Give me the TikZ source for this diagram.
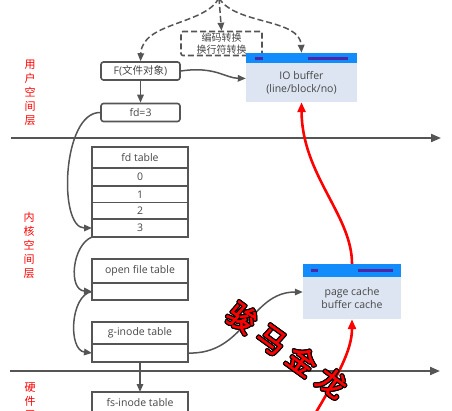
\documentclass[tikz,border=0pt]{standalone}
\usepackage{fontspec}
\setmainfont{Open Sans}
\newfontfamily\cjk{Noto Sans CJK SC}
\newfontfamily\wmfont[FakeBold=1.6]{Noto Sans CJK SC}
\usetikzlibrary{arrows.meta, positioning, calc}
\definecolor{linegray}{RGB}{85,85,85}
\definecolor{txtgray}{RGB}{70,70,70}
\definecolor{barblue}{RGB}{18,140,250}
\definecolor{markpurple}{RGB}{75,40,165}
\definecolor{cachefill}{RGB}{221,229,242}

\begin{document}
\begin{tikzpicture}[x=1pt, y=-1pt, font=\fontsize{10.5}{13}\selectfont, text=txtgray,
    tbl/.style={draw=linegray, line width=1.6pt, minimum width=96pt, inner sep=0pt, outer sep=0pt, anchor=north},
    obj/.style={draw=linegray, line width=1.6pt, rounded corners=2.5pt, minimum width=79pt, minimum height=18pt, inner sep=0pt},
    cache/.style={fill=cachefill, inner sep=0pt, align=center},
    conn/.style={linegray, line width=1.5pt, -{Triangle[length=8pt,width=6.5pt]}},
    hot/.style={red, line width=2.6pt, -{Triangle[length=10pt,width=8pt]}},
    sep/.style={linegray, line width=2pt, -{Triangle[length=10pt,width=8pt]}},
    layer/.style={red, align=center, font=\cjk\fontsize{11}{14}\selectfont},
    wm/.style={rotate=-36, font=\wmfont\fontsize{29}{29}\selectfont}]
    \useasboundingbox (0,0) rectangle (452,410);

    % layer separators
    \coordinate (ul) at (11,138);
    \coordinate (ur) at (441,138);
    \coordinate (kl) at (10,371);
    \coordinate (kr) at (440,371);
    \draw[sep] (ul) -- (ur);
    \draw[sep] (kl) -- (kr);
    \node[layer] (user) at (30,93) {用\\户\\空\\间\\层};
    \node[layer] (kern) at (29,245) {内\\核\\空\\间\\层};
    \node[layer] (hard) at (30,402) {硬\\件\\层};

    % user space
    \node[draw=linegray, dashed, dash pattern=on 6pt off 3pt, line width=1.6pt, rounded corners=2pt, minimum width=81pt, minimum height=24pt, inner sep=0pt, align=center, font=\cjk\fontsize{10}{12}\selectfont] (conv) at (221.5,43.5) {编码转换\\换行符转换};
    \node[obj] (fobj) at (140.5,71) {F({\cjk 文件对象})};
    \node[obj] (fdobj) at (140.5,112.5) {fd=3};
    \node[cache, minimum width=111pt, minimum height=39pt] (io) at (301.5,82.5) {IO buffer\\(line/block/no)};
    \fill[barblue] (io.north west) rectangle ++(111,-10);
    \fill[markpurple] ($(io.north west)+(9,-3)$) rectangle ++(8,-3);
    \fill[markpurple] ($(io.north west)+(62,-3)$) rectangle ++(40,-3);
    \coordinate (iobar) at ($(io.north)+(0,-10)$);
    \coordinate (src) at (219,-2);

    % kernel tables
    \node[tbl, minimum height=21pt] (fdh) at (140,147) {fd table};
    \node[tbl, minimum height=18pt, below=0pt of fdh] (fd0) {0};
    \node[tbl, minimum height=16.5pt, below=0pt of fd0] (fd1) {1};
    \node[tbl, minimum height=16.5pt, below=0pt of fd1] (fd2) {2};
    \node[tbl, minimum height=18pt, below=0pt of fd2] (fd3) {3};
    \node[tbl, minimum height=24pt] (ofh) at (140,259) {open file table};
    \node[tbl, minimum height=17pt, below=0pt of ofh] (of1) {};
    \node[tbl, minimum height=22pt] (gih) at (140,322) {g-inode table};
    \node[tbl, minimum height=18pt, below=0pt of gih] (gi1) {};
    \node[tbl, minimum height=22pt] (fsh) at (140,392) {fs-inode table};

    \node[cache, minimum width=98pt, minimum height=42pt] (page) at (352,298) {page cache\\buffer cache};
    \fill[barblue] (page.north west) rectangle ++(98,-13);
    \fill[markpurple] ($(page.north west)+(8,-5)$) rectangle ++(7,-3);
    \fill[markpurple] ($(page.north west)+(55,-5)$) rectangle ++(35,-3);
    \coordinate (pgtop) at ($(page.north)+(0,-13)$);
    \coordinate (pgin) at ($(page.west)+(0,-6)$);
    \coordinate (hw) at (315,414);

    % connectors
    \draw[conn, dashed, dash pattern=on 6pt off 3pt] (src) -- (conv.north);
    \draw[conn, dashed, dash pattern=on 6pt off 3pt] (src) .. controls (205,25) and (142,22) .. (fobj.north);
    \draw[conn, dashed, dash pattern=on 6pt off 3pt] (src) .. controls (235,25) and (300,18) .. (iobar);
    \draw[conn] (fobj.south) -- (fdobj.north);
    \draw[conn] (fobj.east) .. controls (215,66) and (225,78) .. ($(io.west)+(0,-4)$);
    \draw[conn] (fdobj.west) .. controls (62,112) and (58,228) .. (fd3.west);
    \draw[conn] (fd3.south west) .. controls (72,245) and (68,290) .. (of1.west);
    \draw[conn] (of1.west) .. controls (70,295) and (68,350) .. (gi1.west);
    \draw[conn] (gi1.south) -- (fsh.north);
    \draw[conn] (gi1.east) .. controls (245,355) and (250,292) .. (pgin);
    \draw[hot] (hw) .. controls (338,375) and (352,350) .. (page.south);
    \draw[hot] (pgtop) .. controls (352,215) and (302,175) .. (io.south);

    % watermark: black rim under red letters
    \coordinate (wmc) at (287,350);
    \foreach \a in {0,45,...,315}
        \node[wm, text=black] (wmo\a) at ($(wmc)+(\a:1.3)$) {骏\hspace{8pt}马\hspace{8pt}金\hspace{8pt}龙};
    \node[wm, text=red] (wm) at (wmc) {骏\hspace{8pt}马\hspace{8pt}金\hspace{8pt}龙};
\end{tikzpicture}
\end{document}
